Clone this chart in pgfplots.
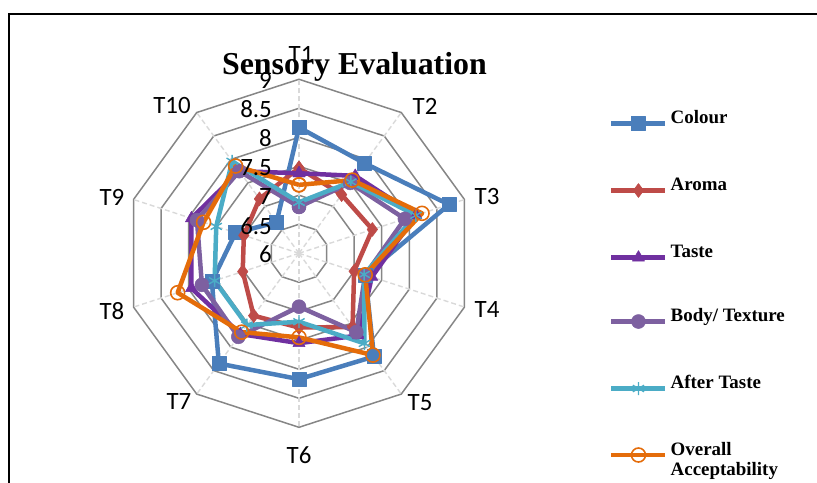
\documentclass[border=0pt]{standalone}
\usepackage{fontspec}
\setmainfont{Liberation Serif}
\newfontfamily\carlito{Carlito}
\usepackage{pgfplots}
\usepackage{pgfplotstable}
\pgfplotsset{compat=1.18}

\definecolor{cColour}{HTML}{4A7EBB}
\definecolor{cAroma}{HTML}{BE4B48}
\definecolor{cTaste}{HTML}{7030A0}
\definecolor{cBody}{HTML}{7D60A0}
\definecolor{cAfter}{HTML}{4BACC6}
\definecolor{cOverall}{HTML}{E46C0A}
\definecolor{ring}{HTML}{868686}
\definecolor{spoke}{HTML}{D9D9D9}

% angle (deg, T1 at top, clockwise) and scores
\pgfplotstableread{
angle Colour Aroma Taste Body After Overall
90    8.17   7.47  7.38  6.80 6.88  7.18
54    7.92   7.25  7.65  7.50 7.52  7.56
18    8.72   7.33  8.12  7.92 8.12  8.23
-18   7.20   7.00  7.32  7.20 7.18  7.20
-54   8.20   7.57  7.75  7.68 7.92  8.17
-90   8.17   7.28  7.55  6.92 7.18  7.45
-126  8.35   7.33  7.72  7.78 7.53  7.68
-162  7.58   7.02  7.95  7.76 7.53  8.20
-198  7.15   7.00  7.95  7.85 7.50  7.73
-234  6.66   7.16  7.75  7.75 7.96  7.86
-270  8.17   7.47  7.38  6.80 6.88  7.18
}\sensory

\begin{document}
\begin{tikzpicture}[x=1bp,y=1bp]
\useasboundingbox (-299,-229.7) rectangle (518,253.3);
\draw[line width=1.5bp] (-290,-240) -- (-290,239.3) -- (530,239.3);
\begin{axis}[
  at={(0,0)}, anchor=origin,
  x=58bp, y=58bp,
  xmin=-3.3, xmax=3.3, ymin=-3.3, ymax=3.3,
  hide axis, clip=false,
  legend style={at={(axis cs:5.345,2.448)}, anchor=north west, draw=none, fill=none,
    inner sep=0pt, row sep=48bp,
    nodes={inner sep=0pt, text height=12bp, text depth=4bp, anchor=base west},
    font=\bfseries\fontsize{19}{21}\selectfont,
    /tikz/every odd column/.append style={column sep=3bp}},
  legend cell align=left,
  legend image code/.code={\draw[mark repeat=2,mark phase=2] plot coordinates {(0bp,0bp) (27bp,0bp) (54bp,0bp)};},
  every axis plot post/.append style={line join=round},
]
% rings
\pgfplotsinvokeforeach{0.5,1,1.5,2,2.5,3}{
  \addplot[ring, line width=1.5bp, data cs=polar, forget plot]
    coordinates {(90,#1) (54,#1) (18,#1) (-18,#1) (-54,#1) (-90,#1) (-126,#1) (-162,#1) (-198,#1) (-234,#1) (-270,#1)};
}
% spokes
\pgfplotsinvokeforeach{90,54,18,-18,-54,-90,-126,-162,-198,-234}{
  \addplot[spoke, line width=1.4bp, dash pattern=on 5bp off 3bp, data cs=polar, forget plot]
    coordinates {(#1,0) (#1,3)};
}
\addplot[cColour, line width=4.5bp, mark=square*, mark size=7bp, mark options={solid, line width=0.5bp}, data cs=polar]
  table[x=angle, y expr=\thisrow{Colour}-6] {\sensory};
\addlegendentry{Colour}
\addplot[cAroma, line width=4.5bp, mark=diamond*, mark size=7bp, mark options={solid, line width=0.5bp}, data cs=polar]
  table[x=angle, y expr=\thisrow{Aroma}-6] {\sensory};
\addlegendentry{Aroma}
\addplot[cTaste, line width=4.5bp, mark=triangle*, mark size=7bp, mark options={solid, line width=0.5bp}, data cs=polar]
  table[x=angle, y expr=\thisrow{Taste}-6] {\sensory};
\addlegendentry{Taste}
\addplot[cBody, line width=4.5bp, mark=*, mark size=7bp, mark options={solid, line width=0.5bp}, data cs=polar]
  table[x=angle, y expr=\thisrow{Body}-6] {\sensory};
\addlegendentry{Body/ Texture}
\addplot[cAfter, line width=4.5bp, mark=asterisk, mark size=6.5bp, mark options={solid, line width=1.4bp}, data cs=polar]
  table[x=angle, y expr=\thisrow{After}-6] {\sensory};
\addlegendentry{After Taste}
\addplot[cOverall, line width=4.5bp, mark=o, mark size=7bp, mark options={solid, line width=1.6bp}, data cs=polar]
  table[x=angle, y expr=\thisrow{Overall}-6] {\sensory};
\addlegendentry{\vtop{\hbox{Overall}\hbox{Acceptability}}}
\end{axis}
% category labels
\begin{scope}[every node/.style={font=\carlito\fontsize{25}{28}\selectfont, inner sep=0pt}]
\node at (2,199.3) {T1};
\node at (126,147.3) {T2};
\node at (188,56.3) {T3};
\node at (188,-56.7) {T4};
\node at (121,-149.7) {T5};
\node at (0,-201.7) {T6};
\node at (-120,-148.7) {T7};
\node at (-187,-57.7) {T8};
\node at (-187,56.3) {T9};
\node at (-127,147.3) {T10};
% radial tick labels
\node[anchor=east] at (-27,173) {9};
\node[anchor=east] at (-27,144) {8.5};
\node[anchor=east] at (-27,115) {8};
\node[anchor=east] at (-27,86) {7.5};
\node[anchor=east] at (-27,57) {7};
\node[anchor=east] at (-27,27) {6.5};
\node[anchor=east] at (-27,-1) {6};
\end{scope}
\node[anchor=base, inner sep=0pt, font=\bfseries\fontsize{32}{36}\selectfont] at (55.5,178.3) {Sensory Evaluation};
\end{tikzpicture}
\end{document}
